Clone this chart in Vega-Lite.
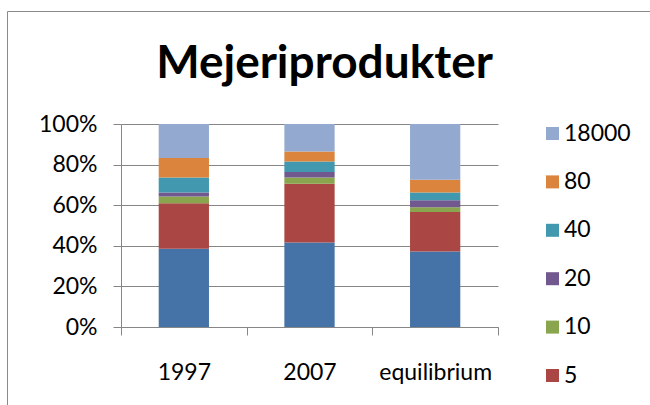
{
  "$schema": "https://vega.github.io/schema/vega-lite/v6.json",
  "width": 377,
  "height": 203,
  "autosize": {"type": "none"},
  "padding": {"left": 121, "top": 124, "right": 152, "bottom": 78},
  "background": "white",
  "title": {
    "text": "Mejeriprodukter",
    "font": "Lato",
    "fontSize": 46,
    "fontWeight": "bold",
    "color": "#000000",
    "anchor": "middle",
    "baseline": "alphabetic",
    "dx": 15,
    "offset": -113
  },
  "data": {
    "values": [
      {"period": "1997", "series": "1", "rank": 1, "share": 38.5},
      {"period": "1997", "series": "5", "rank": 2, "share": 22.5},
      {"period": "1997", "series": "10", "rank": 3, "share": 3.3},
      {"period": "1997", "series": "20", "rank": 4, "share": 1.9},
      {"period": "1997", "series": "40", "rank": 5, "share": 7.5},
      {"period": "1997", "series": "80", "rank": 6, "share": 9.6},
      {"period": "1997", "series": "18000", "rank": 7, "share": 16.7},
      {"period": "2007", "series": "1", "rank": 1, "share": 41.6},
      {"period": "2007", "series": "5", "rank": 2, "share": 29.0},
      {"period": "2007", "series": "10", "rank": 3, "share": 3.1},
      {"period": "2007", "series": "20", "rank": 4, "share": 2.7},
      {"period": "2007", "series": "40", "rank": 5, "share": 5.1},
      {"period": "2007", "series": "80", "rank": 6, "share": 4.9},
      {"period": "2007", "series": "18000", "rank": 7, "share": 13.6},
      {"period": "equilibrium", "series": "1", "rank": 1, "share": 37.2},
      {"period": "equilibrium", "series": "5", "rank": 2, "share": 19.5},
      {"period": "equilibrium", "series": "10", "rank": 3, "share": 2.3},
      {"period": "equilibrium", "series": "20", "rank": 4, "share": 3.4},
      {"period": "equilibrium", "series": "40", "rank": 5, "share": 3.8},
      {"period": "equilibrium", "series": "80", "rank": 6, "share": 6.3},
      {"period": "equilibrium", "series": "18000", "rank": 7, "share": 27.5}
    ]
  },
  "mark": {"type": "bar", "width": {"band": 0.4}},
  "encoding": {
    "x": {
      "field": "period",
      "type": "nominal",
      "sort": ["1997", "2007", "equilibrium"],
      "scale": {"paddingInner": 0, "paddingOuter": 0},
      "axis": {
        "title": null,
        "labelAngle": 0,
        "tickBand": "extent",
        "tickSize": 8,
        "domainColor": "#868686",
        "tickColor": "#868686",
        "labelFont": "Lato",
        "labelFontSize": 23,
        "labelColor": "#000000",
        "labelPadding": 26,
        "grid": false
      }
    },
    "y": {
      "field": "share",
      "type": "quantitative",
      "stack": "normalize",
      "scale": {"domain": [0, 1]},
      "axis": {
        "title": null,
        "format": ".0%",
        "values": [0, 0.2, 0.4, 0.6, 0.8, 1],
        "tickSize": 8,
        "domainColor": "#868686",
        "tickColor": "#868686",
        "gridColor": "#868686",
        "grid": true,
        "labelFont": "Lato",
        "labelFontSize": 23,
        "labelColor": "#000000",
        "labelPadding": 16
      }
    },
    "color": {
      "field": "series",
      "type": "nominal",
      "scale": {
        "domain": ["1", "5", "10", "20", "40", "80", "18000"],
        "range": ["#4572A7", "#AA4643", "#89A54E", "#71588F", "#4198AF", "#DB843D", "#93A9CF"]
      },
      "legend": {
        "values": ["18000", "80", "40", "20", "10", "5"],
        "orient": "none",
        "legendX": 420,
        "legendY": -2,
        "title": null,
        "symbolType": "square",
        "symbolSize": 169,
        "symbolStrokeWidth": 0,
        "symbolOpacity": 1,
        "labelFont": "Lato",
        "labelFontSize": 23,
        "labelColor": "#000000",
        "labelOffset": 0,
        "rowPadding": 24.4
      }
    },
    "opacity": {
      "field": "period",
      "type": "nominal",
      "scale": {"type": "ordinal", "range": [1, 1, 1]},
      "legend": {
        "orient": "none",
        "legendX": -114,
        "legendY": -113,
        "title": null,
        "padding": 800,
        "strokeColor": "#8a8a8a",
        "symbolOpacity": 0,
        "labelOpacity": 0,
        "labelExpr": "''",
        "encode": {"legend": {"update": {"strokeWidth": {"value": 2}}}}
      }
    },
    "order": {"field": "rank", "type": "quantitative"}
  },
  "config": {"view": {"stroke": null}}
}
